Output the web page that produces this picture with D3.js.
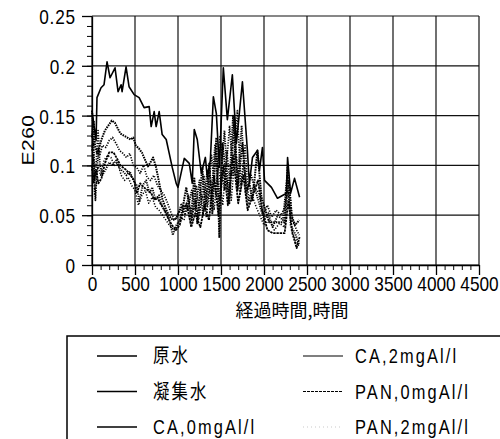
<!DOCTYPE html>
<html>
<head>
<meta charset="utf-8">
<script src="https://cdn.jsdelivr.net/npm/d3@7"></script>
<style>
  body { margin: 0; background: #fff; }
  svg { display: block; }
</style>
</head>
<body>
<div id="chart"></div>
<script>
// series names, in legend order
const seriesNames = ["原水", "凝集水", "CA,0mgAl/l", "CA,2mgAl/l", "PAN,0mgAl/l", "PAN,2mgAl/l"];

// [elapsed hours, E260]
const genSui = [[0,0.155],[47,0.125],[58,0.168],[105,0.178],[140,0.181],[175,0.204],[210,0.188],[268,0.198],[303,0.174],[338,0.181],[350,0.174],[396,0.199],[431,0.179],[490,0.171],[548,0.168],[606,0.158],[665,0.159],[688,0.139],[723,0.154],[746,0.139],[781,0.154],[816,0.131],[863,0.126],[898,0.112],[933,0.098],[979,0.082],[1000,0.078],[1073,0.107],[1131,0.102],[1166,0.082],[1189,0.136],[1224,0.126],[1271,0.092],[1318,0.108],[1341,0.088],[1376,0.105],[1411,0.169],[1446,0.152],[1481,0.098],[1527,0.198],[1574,0.146],[1632,0.191],[1679,0.122],[1749,0.184],[1807,0.115],[1830,0.082],[1866,0.108],[1924,0.115],[1947,0.095],[1982,0.118],[2006,0.085],[2087,0.078],[2157,0.067],[2262,0.072],[2274,0.108],[2309,0.072],[2355,0.087],[2414,0.068]];

const gyoshu = [[0,0.128],[20,0.145],[35,0.12],[60,0.112],[85,0.118],[110,0.126],[150,0.135],[190,0.14],[230,0.145],[265,0.143],[300,0.137],[330,0.132],[370,0.13],[410,0.128],[450,0.126],[480,0.128],[510,0.12],[545,0.117],[580,0.113],[615,0.106],[650,0.099],[680,0.103],[710,0.108],[745,0.098],[780,0.083],[820,0.066],[860,0.056],[900,0.049],[940,0.045],[980,0.047],[1020,0.055],[1060,0.06],[1096,0.078],[1154,0.048],[1189,0.088],[1224,0.042],[1283,0.098],[1318,0.055],[1364,0.102],[1399,0.052],[1446,0.128],[1481,0.028],[1516,0.122],[1562,0.088],[1597,0.062],[1656,0.148],[1691,0.075],[1749,0.122],[1796,0.075],[1830,0.082],[1866,0.065],[1924,0.115],[1970,0.068],[2006,0.058],[2060,0.043],[2120,0.043],[2240,0.043],[2275,0.1],[2320,0.05],[2360,0.04],[2410,0.045]];

const ca0 = [[0,0.1],[20,0.083],[47,0.095],[75,0.082],[110,0.087],[150,0.102],[200,0.113],[250,0.113],[290,0.107],[330,0.1],[390,0.096],[440,0.091],[490,0.085],[520,0.072],[560,0.082],[600,0.078],[650,0.075],[690,0.072],[720,0.066],[760,0.068],[800,0.061],[840,0.056],[890,0.046],[930,0.04],[975,0.035],[1020,0.04],[1060,0.055],[1100,0.062],[1154,0.038],[1200,0.052],[1260,0.038],[1310,0.06],[1360,0.045],[1420,0.09],[1470,0.05],[1530,0.1],[1580,0.06],[1640,0.11],[1700,0.062],[1760,0.09],[1810,0.055],[1870,0.07],[1930,0.085],[1980,0.055],[2040,0.035],[2100,0.032],[2240,0.032],[2285,0.065],[2330,0.032],[2380,0.017],[2414,0.028]];

const ca2 = [[0,0.155],[12,0.14],[25,0.095],[40,0.065],[55,0.09],[75,0.118],[95,0.1],[120,0.09],[160,0.096],[200,0.103],[240,0.1],[280,0.105],[320,0.097],[360,0.094],[400,0.09],[440,0.094],[480,0.085],[520,0.08],[550,0.064],[590,0.08],[630,0.085],[670,0.072],[700,0.078],[740,0.065],[780,0.07],[820,0.058],[860,0.052],[900,0.045],[940,0.03],[980,0.04],[1020,0.045],[1060,0.06],[1110,0.055],[1160,0.075],[1200,0.055],[1250,0.085],[1290,0.05],[1340,0.095],[1380,0.06],[1430,0.12],[1480,0.065],[1540,0.135],[1590,0.07],[1640,0.15],[1690,0.08],[1740,0.14],[1790,0.07],[1850,0.09],[1900,0.075],[1950,0.06],[2000,0.045],[2050,0.052],[2100,0.038],[2160,0.05],[2220,0.045],[2270,0.09],[2310,0.04],[2370,0.03],[2410,0.02]];

const pan0 = [[0,0.115],[15,0.13],[30,0.085],[50,0.105],[70,0.135],[90,0.11],[120,0.12],[160,0.118],[200,0.125],[240,0.128],[280,0.122],[320,0.115],[360,0.112],[400,0.108],[440,0.112],[480,0.1],[520,0.098],[560,0.092],[600,0.1],[640,0.088],[680,0.085],[720,0.09],[760,0.08],[800,0.075],[840,0.07],[880,0.062],[920,0.052],[960,0.045],[1000,0.05],[1040,0.062],[1080,0.05],[1120,0.07],[1160,0.045],[1210,0.08],[1250,0.05],[1300,0.09],[1340,0.06],[1390,0.11],[1440,0.07],[1490,0.13],[1540,0.075],[1600,0.14],[1640,0.09],[1690,0.155],[1730,0.08],[1780,0.12],[1820,0.065],[1880,0.08],[1940,0.072],[1990,0.05],[2040,0.06],[2090,0.048],[2140,0.055],[2200,0.05],[2250,0.06],[2290,0.085],[2330,0.045],[2380,0.035],[2410,0.03]];

const pan2 = [[0,0.095],[15,0.11],[30,0.07],[50,0.08],[70,0.1],[100,0.09],[140,0.105],[180,0.11],[220,0.108],[260,0.1],[300,0.102],[340,0.09],[380,0.085],[420,0.088],[460,0.08],[500,0.075],[540,0.06],[580,0.07],[620,0.075],[660,0.062],[700,0.068],[740,0.058],[780,0.055],[820,0.05],[860,0.045],[900,0.04],[950,0.035],[990,0.038],[1030,0.048],[1070,0.045],[1110,0.06],[1150,0.042],[1200,0.065],[1240,0.045],[1280,0.07],[1330,0.048],[1380,0.085],[1420,0.055],[1470,0.1],[1520,0.06],[1570,0.115],[1620,0.065],[1670,0.12],[1720,0.07],[1770,0.105],[1810,0.06],[1860,0.07],[1910,0.058],[1960,0.048],[2000,0.04],[2060,0.045],[2120,0.035],[2180,0.042],[2240,0.038],[2280,0.075],[2320,0.035],[2370,0.025],[2410,0.018]];

const seriesValues = [genSui, gyoshu, ca0, ca2, pan0, pan2];

// axis ticks
const xTicks = [0, 500, 1000, 1500, 2000, 2500, 3000, 3500, 4000, 4500];
const yTicks = [0, 0.05, 0.1, 0.15, 0.2, 0.25];
const yTickLabels = ["0", "0.05", "0.1", "0.15", "0.2", "0.25"];
const xTitle = "経過時間,時間";
const yTitle = "E260";

// ---- drawing ----
const W = 500, H = 439;
const M = { left: 92, right: 21, top: 16, bottom: 174 };
const PW = W - M.left - M.right;
const PH = H - M.top - M.bottom;

const NUM_FONT = '"Liberation Sans", "DejaVu Sans", sans-serif';
const JP_FONT = '"Noto Sans CJK JP", "Noto Sans CJK SC", sans-serif';
const SQUEEZE = 0.82; // the scan's digits are tall and narrow

// line looks per series (stroke width, dash)
const LOOKS = [
  { w: 1.6, dash: null },
  { w: 2.0, dash: "1.6,0.9" },
  { w: 1.8, dash: "2.4,0.8" },
  { w: 1.8, dash: "1.2,1.1" },
  { w: 1.7, dash: "1.2,1.4" },
  { w: 1.5, dash: "1.2,1.6" },
];

const svg = d3.select("#chart").append("svg")
  .attr("width", W).attr("height", H);

const g = svg.append("g").attr("transform", `translate(${M.left},${M.top})`);

const x = d3.scaleLinear().domain([0, 4500]).range([0, PW]);
const y = d3.scaleLinear().domain([0, 0.25]).range([PH, 0]);

// grid
g.append("g").selectAll("line.h").data(yTicks).enter().append("line")
  .attr("x1", 0).attr("x2", PW)
  .attr("y1", d => y(d)).attr("y2", d => y(d))
  .attr("stroke", "#111").attr("stroke-width", 1.2);
g.append("g").selectAll("line.v").data(xTicks).enter().append("line")
  .attr("y1", 0).attr("y2", PH)
  .attr("x1", d => x(d)).attr("x2", d => x(d))
  .attr("stroke", "#111").attr("stroke-width", 1.2);

// minor ticks
const xMinor = d3.range(0, 4501, 100);
const yMinor = d3.range(0, 0.2501, 0.01);

g.append("g").attr("transform", `translate(0,${PH})`)
  .call(d3.axisBottom(x).tickValues(xMinor).tickSize(5).tickFormat(""))
  .call(a => a.select(".domain").remove());
g.append("g")
  .call(d3.axisLeft(y).tickValues(yMinor).tickSize(5).tickFormat(""))
  .call(a => a.select(".domain").remove());

// major axes
const xAxis = g.append("g").attr("transform", `translate(0,${PH})`)
  .call(d3.axisBottom(x).tickValues(xTicks).tickSize(10).tickSizeOuter(0).tickPadding(1)
    .tickFormat(d3.format("d")));
const yAxis = g.append("g")
  .call(d3.axisLeft(y).tickValues(yTicks).tickSize(10).tickSizeOuter(0).tickPadding(6)
    .tickFormat((d, i) => yTickLabels[i]));

[xAxis, yAxis].forEach(a => {
  a.selectAll("path, line").attr("stroke", "#000").attr("stroke-width", 1.3);
  a.selectAll("text")
    .attr("fill", "#000")
    .attr("transform", `scale(${SQUEEZE},1)`)
    .style("font-family", NUM_FONT)
    .style("font-size", "21px");
});
xAxis.selectAll("text").style("letter-spacing", "0px");
yAxis.selectAll("text").attr("dy", "0.36em").attr("x", -16 / SQUEEZE)
  .style("letter-spacing", "1px");

// lines
const line = d3.line()
  .x(d => x(d[0]))
  .y(d => y(d[1]));

g.append("g").selectAll("path.series").data(seriesValues).enter().append("path")
  .attr("class", "series")
  .attr("d", d => line(d))
  .attr("fill", "none")
  .attr("stroke", "#000")
  .attr("stroke-width", (d, i) => LOOKS[i].w)
  .attr("stroke-dasharray", (d, i) => LOOKS[i].dash)
  .attr("stroke-linejoin", "round");

// axis titles
svg.append("text")
  .attr("x", 292).attr("y", 317)
  .attr("text-anchor", "middle")
  .style("font-family", JP_FONT)
  .style("font-size", "18px")
  .text(xTitle);

svg.append("text")
  .attr("transform", `translate(34,140) rotate(-90) scale(1,${SQUEEZE})`)
  .attr("text-anchor", "middle")
  .style("font-family", NUM_FONT)
  .style("font-size", "21px")
  .style("letter-spacing", "0.5px")
  .text(yTitle);

// legend box (runs off the page on the right and bottom)
svg.append("rect")
  .attr("x", 67).attr("y", 336)
  .attr("width", 460).attr("height", 130)
  .attr("fill", "none")
  .attr("stroke", "#000")
  .attr("stroke-width", 1.5);

const legendLooks = [
  { w: 1.3, dash: null },
  { w: 1.3, dash: null },
  { w: 1.3, dash: null },
  { w: 1.1, dash: null },
  { w: 1.1, dash: "3,1" },
  { w: 0.8, dash: "1,3" },
];

const legend = svg.append("g").selectAll("g.legend").data(seriesNames).enter().append("g")
  .attr("class", "legend")
  .attr("transform", (d, i) => `translate(${i < 3 ? 97 : 303},${356 + (i % 3) * 35.5})`);

legend.append("line")
  .attr("x1", 0).attr("x2", 40)
  .attr("stroke", (d, i) => i === 5 ? "#bbb" : "#000")
  .attr("stroke-width", (d, i) => legendLooks[i].w)
  .attr("stroke-dasharray", (d, i) => legendLooks[i].dash);

legend.append("text")
  .attr("x", (d, i) => (i < 3 ? 56 : 52) / SQUEEZE)
  .attr("dy", "0.36em")
  .attr("transform", `scale(${SQUEEZE},1)`)
  .style("font-family", `${NUM_FONT.replace(", sans-serif", "")}, ${JP_FONT}`)
  .style("font-size", "20px")
  .style("letter-spacing", "2.6px")
  .text(d => d);
</script>
</body>
</html>
